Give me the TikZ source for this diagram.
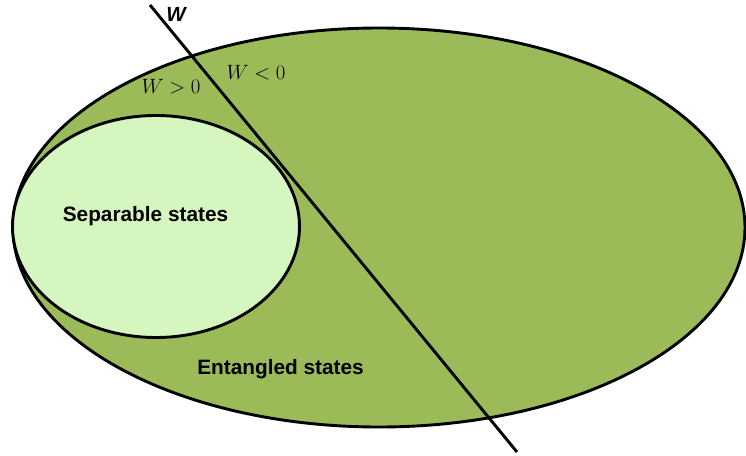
\documentclass[tikz,border=0pt]{standalone}
\usepackage{fontspec}
\newfontfamily\labelfont{Liberation Sans}
\definecolor{biggreen}{HTML}{9BBB59}
\definecolor{lightgreen}{HTML}{D5F6BF}
\begin{document}
\begin{tikzpicture}[x=1pt,y=-1pt,
  outline/.style={draw=black,line width=2.9pt},
  setlabel/.style={font=\labelfont\bfseries\fontsize{20.8}{24}\selectfont,inner sep=0pt},
  mathlabel/.style={font=\fontsize{20.5}{24}\selectfont,inner sep=0pt}]
\useasboundingbox (0,0) rectangle (746,455);
\path[outline,fill=biggreen] (379,227.5) ellipse [x radius=366,y radius=199.5];
\path[outline,fill=lightgreen] (156,226.5) ellipse [x radius=143.5,y radius=111];
\coordinate (wtop) at (150,5);
\coordinate (wbot) at (517,452);
\draw[line width=2.9pt] (wtop) -- (wbot);
\node[font=\labelfont\bfseries\itshape\fontsize{20.5}{22}\selectfont,inner sep=0pt] (wlab) at (176,14) {W};
\node[mathlabel] (wpos) at (171,87) {$W>0$};
\node[mathlabel] (wneg) at (256,73) {$W<0$};
\node[setlabel] (sep) at (145.5,216) {Separable states};
\node[setlabel] (ent) at (280.5,369) {Entangled states};
\end{tikzpicture}
\end{document}
